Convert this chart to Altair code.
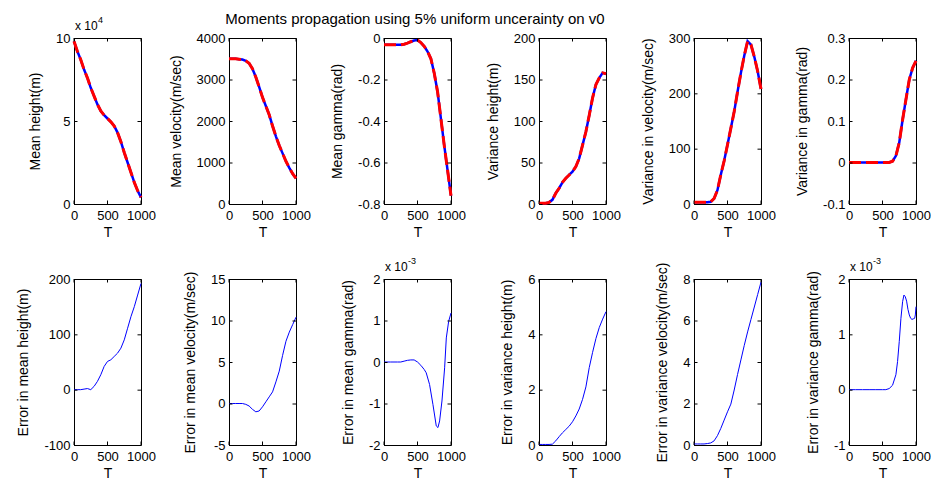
import altair as alt
import pandas as pd

FONT = "Liberation Sans"
TITLE = "Moments propagation using 5% uniform uncerainty on v0"

# ---------------- data ----------------
T21 = [0, 50, 100, 150, 200, 250, 300, 350, 400, 450, 500,
       550, 600, 650, 700, 750, 800, 850, 900, 950, 1000]

mean_height = [98000, 92000, 87000, 81000, 76000, 70000, 65000, 60000, 56000, 53500, 51500,
               49500, 47000, 43000, 37500, 31000, 25000, 19000, 13000, 8000, 4000]
mean_velocity = [3500, 3500, 3500, 3490, 3480, 3450, 3390, 3260, 3060, 2820, 2570,
                 2360, 2150, 1880, 1630, 1410, 1220, 1030, 870, 730, 620]
mean_gamma = [-0.033, -0.033, -0.033, -0.033, -0.033, -0.033, -0.030, -0.025, -0.018, -0.012, -0.010,
              -0.022, -0.040, -0.065, -0.100, -0.170, -0.260, -0.390, -0.520, -0.640, -0.760]
var_height = [1, 1, 1, 2, 5, 13, 19, 26, 31, 35, 39,
              45, 55, 71, 87, 107, 128, 144, 152, 158, 157]
var_velocity = [3, 3, 3, 3, 3, 4, 10, 25, 53, 78, 107,
                137, 167, 203, 237, 268, 294, 288, 266, 240, 208]
var_gamma = [0, 0, 0, 0, 0, 0, 0, 0, 0, 0, 0,
             0, 0, 0.003, 0.016, 0.048, 0.103, 0.152, 0.200, 0.228, 0.245]

err_mean_height = [0, 0, 0, 1, 2, 0, 6, 15, 27, 42, 51,
                   54, 60, 66, 75, 90, 111, 132, 150, 171, 192]
err_mean_velocity = [0, 0, 0, 0, 0, -0.1, -0.3, -0.7, -1.0, -0.9, -0.4,
                     0.2, 0.8, 1.4, 2.6, 3.9, 5.8, 7.5, 8.6, 9.5, 10.4]
T_emg = [0, 100, 200, 250, 300, 350, 400, 450, 500, 550, 600, 630, 680, 730,
         780, 805, 830, 865, 905, 930, 965, 1000]
err_mean_gamma = [0, 0, 0, 0, 0.02e-3, 0.04e-3, 0.05e-3, 0.05e-3, 0.0, -0.08e-3, -0.18e-3,
                  -0.26e-3, -0.54e-3, -1.02e-3, -1.54e-3, -1.58e-3, -1.42e-3, -0.94e-3,
                  -0.14e-3, 0.58e-3, 0.98e-3, 1.18e-3]
err_var_height = [0.02, 0.02, 0.02, 0.02, 0.03, 0.15, 0.30, 0.44, 0.56, 0.68, 0.84,
                  1.05, 1.30, 1.65, 2.10, 2.80, 3.35, 3.85, 4.25, 4.55, 4.82]
err_var_velocity = [0.05, 0.05, 0.05, 0.05, 0.07, 0.10, 0.20, 0.45, 0.80, 1.20, 1.60,
                    1.97, 2.65, 3.40, 4.10, 4.80, 5.45, 6.05, 6.65, 7.25, 7.85]
T_evg = [0, 100, 200, 300, 400, 500, 550, 600, 650, 700, 725, 750, 775, 800,
         820, 840, 860, 880, 900, 920, 940, 960, 980, 990, 1000]
err_var_gamma = [0, 0, 0, 0, 0, 0, 0, 0.02e-3, 0.08e-3, 0.27e-3, 0.51e-3, 0.87e-3, 1.29e-3,
                 1.59e-3, 1.71e-3, 1.68e-3, 1.60e-3, 1.45e-3, 1.35e-3, 1.29e-3, 1.27e-3,
                 1.28e-3, 1.29e-3, 1.35e-3, 1.50e-3]

X_TICKS = [0, 500, 1000]

# ---------------- layout constants ----------------
W, H = 67, 166
TL = 3.5          # inward tick length
TICK_FS = 13
LAB_FS = 14


def panel(T, vals, ytitle, ydomain, yticks, yexpr, top_row, exponent=None, title=None, anchor=False):
    xs = alt.Scale(domain=[0, 1000], nice=False, zero=False)
    ys = alt.Scale(domain=ydomain, nice=False, zero=False)
    xaxis = alt.Axis(values=X_TICKS, title="T", labelExpr="'' + datum.value", ticks=False,
                     domain=False, grid=False, labelFlush=False, labelOverlap=False,
                     labelFontSize=TICK_FS, titleFontSize=LAB_FS, labelPadding=5,
                     titlePadding=3, labelFont=FONT, titleFont=FONT,
                     labelColor="black", titleColor="black", titleFontWeight="normal")
    yaxis = alt.Axis(values=yticks, title=ytitle, labelExpr=yexpr, ticks=False,
                     domain=False, grid=False, labelFlush=False, labelOverlap=False,
                     labelFontSize=TICK_FS, titleFontSize=LAB_FS, labelPadding=4,
                     titlePadding=13, labelFont=FONT, titleFont=FONT,
                     labelColor="black", titleColor="black", titleFontWeight="normal")
    X = alt.X("T:Q", scale=xs, axis=xaxis)
    Y = alt.Y("v:Q", scale=ys, axis=yaxis)

    df = pd.DataFrame({"T": T, "v": vals})
    base = alt.Chart(df).encode(x=X, y=Y)
    if top_row:
        layers = [base.mark_line(color="#0000ff", strokeWidth=2.5),
                  base.mark_line(color="#ff0000", strokeWidth=3, strokeDash=[12, 5])]
    else:
        layers = [base.mark_line(color="#0000ff", strokeWidth=1)]

    xt = pd.DataFrame({"T": X_TICKS})
    yt = pd.DataFrame({"v": yticks})
    layers += [
        alt.Chart(xt).mark_rule(color="black", strokeWidth=1).encode(
            x=X, y=alt.value(H), y2=alt.value(H - TL)),
        alt.Chart(xt).mark_rule(color="black", strokeWidth=1).encode(
            x=X, y=alt.value(0), y2=alt.value(TL)),
        alt.Chart(yt).mark_rule(color="black", strokeWidth=1, yOffset=0.5).encode(
            y=Y, x=alt.value(0), x2=alt.value(TL)),
        alt.Chart(yt).mark_rule(color="black", strokeWidth=1, yOffset=0.5).encode(
            y=Y, x=alt.value(W), x2=alt.value(W - TL)),
    ]
    one = pd.DataFrame({"a": [0]})
    if exponent is not None:
        layers += [
            alt.Chart(one).mark_text(text="x 10", font=FONT, fontSize=12, align="left",
                                     baseline="alphabetic", color="black").encode(
                x=alt.value(1), y=alt.value(-8)),
            alt.Chart(one).mark_text(text=exponent, font=FONT, fontSize=9, align="left",
                                     baseline="alphabetic", color="black").encode(
                x=alt.value(24), y=alt.value(-15)),
        ]
    if title is not None:
        layers.append(
            alt.Chart(one).mark_text(text=title, font=FONT, fontSize=15, align="center",
                                     baseline="alphabetic", color="black").encode(
                x=alt.value(31), y=alt.value(-14)))
    if anchor:
        # invisible white square fixing the chart's top-left origin on whole pixels
        layers.append(
            alt.Chart(one).mark_rect(color="white", strokeWidth=0).encode(
                x=alt.value(-73), x2=alt.value(-72), y=alt.value(-37), y2=alt.value(-36)))
    return alt.layer(*layers).properties(width=W, height=H)


p = [
    panel(T21, mean_height, "Mean height(m)", [0, 100000], [0, 50000, 100000],
          "'' + (datum.value / 10000)", True, exponent="4", anchor=True),
    panel(T21, mean_velocity, "Mean velocity(m/sec)", [0, 4000], [0, 1000, 2000, 3000, 4000],
          "'' + datum.value", True),
    panel(T21, mean_gamma, "Mean gamma(rad)", [-0.8, 0], [-0.8, -0.6, -0.4, -0.2, 0],
          "'' + datum.value", True, title=TITLE),
    panel(T21, var_height, "Variance height(m)", [0, 200], [0, 50, 100, 150, 200],
          "'' + datum.value", True),
    panel(T21, var_velocity, "Variance in velocity(m/sec)", [0, 300], [0, 100, 200, 300],
          "'' + datum.value", True),
    panel(T21, var_gamma, "Variance in gamma(rad)", [-0.1, 0.3], [-0.1, 0, 0.1, 0.2, 0.3],
          "'' + datum.value", True),
]
q = [
    panel(T21, err_mean_height, "Error in mean height(m)", [-100, 200], [-100, 0, 100, 200],
          "'' + datum.value", False),
    panel(T21, err_mean_velocity, "Error in mean velocity(m/sec)", [-5, 15], [-5, 0, 5, 10, 15],
          "'' + datum.value", False),
    panel(T_emg, err_mean_gamma, "Error in mean gamma(rad)", [-0.002, 0.002],
          [-0.002, -0.001, 0, 0.001, 0.002], "'' + round(datum.value * 1000)", False,
          exponent="-3"),
    panel(T21, err_var_height, "Error in variance height(m)", [0, 6], [0, 2, 4, 6],
          "'' + datum.value", False),
    panel(T21, err_var_velocity, "Error in variance velocity(m/sec)", [0, 8], [0, 2, 4, 6, 8],
          "'' + datum.value", False),
    panel(T_evg, err_var_gamma, "Error in variance gamma(rad)", [-0.001, 0.002],
          [-0.001, 0, 0.001, 0.002], "'' + round(datum.value * 1000)", False, exponent="-3"),
]

chart = alt.concat(*p, *q, columns=6, spacing=alt.RowColnumber(row=75, column=88),
                   bounds="flush").properties(
    padding=0, background="white"
).configure_view(
    stroke="black", strokeWidth=1
)

chart.save("out.html", embed_options={"renderer": "svg", "actions": False})
